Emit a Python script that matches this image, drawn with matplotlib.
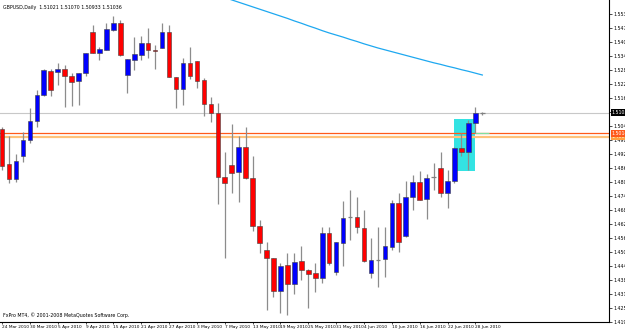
import numpy as np
import matplotlib.pyplot as plt
from matplotlib.patches import Rectangle
import matplotlib.transforms as mtransforms

# GBPUSD daily, 24 Mar 2010 .. 29 Jun 2010
date_labels = ['24 Mar 2010', '30 Mar 2010', '5 Apr 2010', '9 Apr 2010', '15 Apr 2010',
               '21 Apr 2010', '27 Apr 2010', '3 May 2010', '7 May 2010', '13 May 2010',
               '19 May 2010', '25 May 2010', '31 May 2010', '4 Jun 2010', '10 Jun 2010',
               '16 Jun 2010', '22 Jun 2010', '28 Jun 2010']

opens = [1.5033, 1.4881, 1.4816, 1.4916, 1.4985, 1.5067, 1.5180, 1.5284, 1.5279, 1.5292,
         1.5262, 1.5240, 1.5275, 1.5452, 1.5361, 1.5374, 1.5461, 1.5491, 1.5266, 1.5331,
         1.5353, 1.5405, 1.5374, 1.5383, 1.5452, 1.5258, 1.5206, 1.5318, 1.5327, 1.5245,
         1.5141, 1.5102, 1.4825, 1.4877, 1.4847, 1.4955, 1.4821, 1.4613, 1.4509, 1.4475,
         1.4332, 1.4444, 1.4362, 1.4462, 1.4423, 1.4410, 1.4388, 1.4583, 1.4414, 1.4540,
         1.4652, 1.4652, 1.4604, 1.4410, 1.4466, 1.4470, 1.4522, 1.4713, 1.4570, 1.4739,
         1.4803, 1.4730, 1.4821, 1.4864, 1.4756, 1.4808, 1.4951, 1.4933, 1.5059, 1.51021]
highs = [1.5041, 1.5002, 1.4925, 1.5020, 1.5124, 1.5201, 1.5292, 1.5292, 1.5318, 1.5309,
         1.5275, 1.5275, 1.5361, 1.5482, 1.5387, 1.5491, 1.5521, 1.5504, 1.5335, 1.5431,
         1.5435, 1.5470, 1.5396, 1.5491, 1.5482, 1.5258, 1.5340, 1.5387, 1.5327, 1.5253,
         1.5171, 1.5145, 1.4933, 1.5054, 1.5002, 1.5041, 1.4916, 1.4639, 1.4544, 1.4475,
         1.4453, 1.4496, 1.4496, 1.4527, 1.4426, 1.4453, 1.4609, 1.4609, 1.4544, 1.4721,
         1.4769, 1.4739, 1.4682, 1.4561, 1.4609, 1.4609, 1.4726, 1.4756, 1.4808, 1.4834,
         1.4851, 1.4838, 1.4886, 1.4933, 1.4855, 1.4955, 1.5015, 1.5072, 1.5128, 1.51070]
lows = [1.4855, 1.4799, 1.4803, 1.4890, 1.4972, 1.5041, 1.5175, 1.5175, 1.5223, 1.5128,
        1.5132, 1.5136, 1.5262, 1.5361, 1.5331, 1.5374, 1.5457, 1.5348, 1.5188, 1.5288,
        1.5331, 1.5340, 1.5292, 1.5383, 1.5258, 1.5124, 1.5136, 1.5249, 1.5210, 1.5089,
        1.5063, 1.4708, 1.4475, 1.4756, 1.4717, 1.4816, 1.4591, 1.4496, 1.4250, 1.4306,
        1.4237, 1.4228, 1.4319, 1.4380, 1.4259, 1.4328, 1.4367, 1.4444, 1.4401, 1.4440,
        1.4553, 1.4583, 1.4457, 1.4388, 1.4349, 1.4393, 1.4509, 1.4501, 1.4566, 1.4682,
        1.4726, 1.4643, 1.4769, 1.4739, 1.4691, 1.4799, 1.4916, 1.4855, 1.5015, 1.50933]
closes = [1.4873, 1.4816, 1.4894, 1.4985, 1.5067, 1.5180, 1.5288, 1.5201, 1.5292, 1.5262,
          1.5236, 1.5275, 1.5361, 1.5361, 1.5379, 1.5465, 1.5491, 1.5353, 1.5335, 1.5357,
          1.5405, 1.5374, 1.5370, 1.5452, 1.5258, 1.5206, 1.5318, 1.5262, 1.5240, 1.5141,
          1.5102, 1.4825, 1.4799, 1.4842, 1.4955, 1.4821, 1.4613, 1.4540, 1.4475, 1.4332,
          1.4440, 1.4362, 1.4457, 1.4423, 1.4406, 1.4388, 1.4583, 1.4453, 1.4544, 1.4648,
          1.4650, 1.4609, 1.4462, 1.4466, 1.4464, 1.4527, 1.4713, 1.4544, 1.4739, 1.4803,
          1.4726, 1.4821, 1.4823, 1.4756, 1.4808, 1.4951, 1.4933, 1.5059, 1.5102, 1.51036]

# moving average line, bars 32..69
ma_start = 32
ma_values = [1.5601, 1.5591, 1.5581, 1.5571, 1.5561, 1.5551, 1.5541, 1.5531, 1.5521, 1.5511,
             1.5500, 1.5490, 1.5479, 1.5469, 1.5458, 1.5448, 1.5439, 1.5430, 1.5420, 1.5411,
             1.5401, 1.5392, 1.5383, 1.5375, 1.5367, 1.5359, 1.5351, 1.5343, 1.5335, 1.5327,
             1.5319, 1.5312, 1.5304, 1.5297, 1.5289, 1.5282, 1.5274, 1.5266]

price_ticks = [1.55300, 1.54700, 1.54080, 1.53480, 1.52880, 1.52270, 1.51670, 1.51060,
               1.50450, 1.49850, 1.49240, 1.48640, 1.48040, 1.47420, 1.46820, 1.46210,
               1.45610, 1.45010, 1.44400, 1.43800, 1.43190, 1.42590, 1.41980]

level_hi = 1.5014
level_lo = 1.4999
rect_bars = (65, 68)
rect_prices = (1.4851, 1.5076)
green_bars = (68, 70)
green_price = 1.5014

fig = plt.figure(figsize=(6.25, 3.3), dpi=100)
ax = fig.add_axes([0, 8 / 330, 609 / 625, 322 / 330])
fs = 3.4

n = len(opens)
x = np.arange(n)
o = np.array(opens)
c = np.array(closes)

# background objects
ax.add_patch(Rectangle((rect_bars[0], rect_prices[0]), rect_bars[1] - rect_bars[0],
                       rect_prices[1] - rect_prices[0], facecolor='#33e3e3', edgecolor='none', zorder=1))
ax.axhline(closes[-1], color='#c8c8c8', lw=0.8, zorder=1)
ax.axhline(level_hi, color='#ff5a1a', lw=0.9, zorder=1)
ax.axhline(level_lo, color='#ffc27a', lw=1.6, zorder=1)
ax.hlines(green_price, green_bars[0], green_bars[1], color='#7fe0a0', lw=0.9, zorder=2)

# wicks
ax.vlines(x, lows, highs, color='#8c8c8c', lw=0.9, zorder=2)

# bodies
doji = np.abs(c - o) < 0.00025
up = (c >= o) & ~doji
dn = (c < o) & ~doji
w = 0.66
ax.bar(x[up], (c - o)[up], bottom=o[up], width=w, color='#0000ff', edgecolor='#404040', lw=0.4, zorder=3)
ax.bar(x[dn], (o - c)[dn], bottom=c[dn], width=w, color='#ff0000', edgecolor='#404040', lw=0.4, zorder=3)
ax.hlines(c[doji], x[doji] - w / 2, x[doji] + w / 2, color='#808080', lw=0.9, zorder=3)

# moving average
ax.plot(np.arange(ma_start, ma_start + len(ma_values)), ma_values, color='#1ea8f0', lw=0.9, zorder=2)

ax.set_xlim(-0.29, 87.2)
ax.set_ylim(1.4197, 1.55906)

ax.set_xticks(np.arange(0, n, 4)[:len(date_labels)])
ax.set_xticklabels(date_labels, fontsize=3.1, ha='left')
ax.yaxis.tick_right()
ax.set_yticks(price_ticks)
# the tick under the close box is hidden by it in the terminal
ax.set_yticklabels(['' if abs(v - closes[-1]) < 0.001 else '%.5f' % v for v in price_ticks], fontsize=fs)
ax.tick_params(axis='x', length=1.5, width=0.5, pad=1)
ax.tick_params(axis='y', length=2, width=0.5, pad=1)
for s in ['top', 'left']:
    ax.spines[s].set_visible(False)
for s in ['right', 'bottom']:
    ax.spines[s].set_linewidth(0.8)

# price boxes on the right scale
trans = mtransforms.blended_transform_factory(ax.transAxes, ax.transData)
ax.text(1.004, level_lo, '%.5f' % level_lo, transform=trans, fontsize=fs, color='white', va='center',
        ha='left', clip_on=False, bbox=dict(facecolor='#ffa040', edgecolor='none', pad=0.6), zorder=5)
ax.text(1.004, level_hi, '%.5f' % level_hi, transform=trans, fontsize=fs, color='white', va='center',
        ha='left', clip_on=False, bbox=dict(facecolor='#ff5a1a', edgecolor='none', pad=0.6), zorder=6)
ax.text(1.004, closes[-1], '%.5f' % closes[-1], transform=trans, fontsize=fs, color='white', va='center',
        ha='left', clip_on=False, bbox=dict(facecolor='black', edgecolor='none', pad=0.6), zorder=6)

ax.text(0.005, 0.985, 'GBPUSD,Daily  %.5f %.5f %.5f %.5f' % (opens[-1], highs[-1], lows[-1], closes[-1]),
        transform=ax.transAxes, fontsize=fs, va='top', ha='left')
ax.text(0.005, 0.012, 'FxPro MT4, \u00a9 2001-2008 MetaQuotes Software Corp.',
        transform=ax.transAxes, fontsize=fs, va='bottom', ha='left')

fig.savefig('out.png', dpi=100)
